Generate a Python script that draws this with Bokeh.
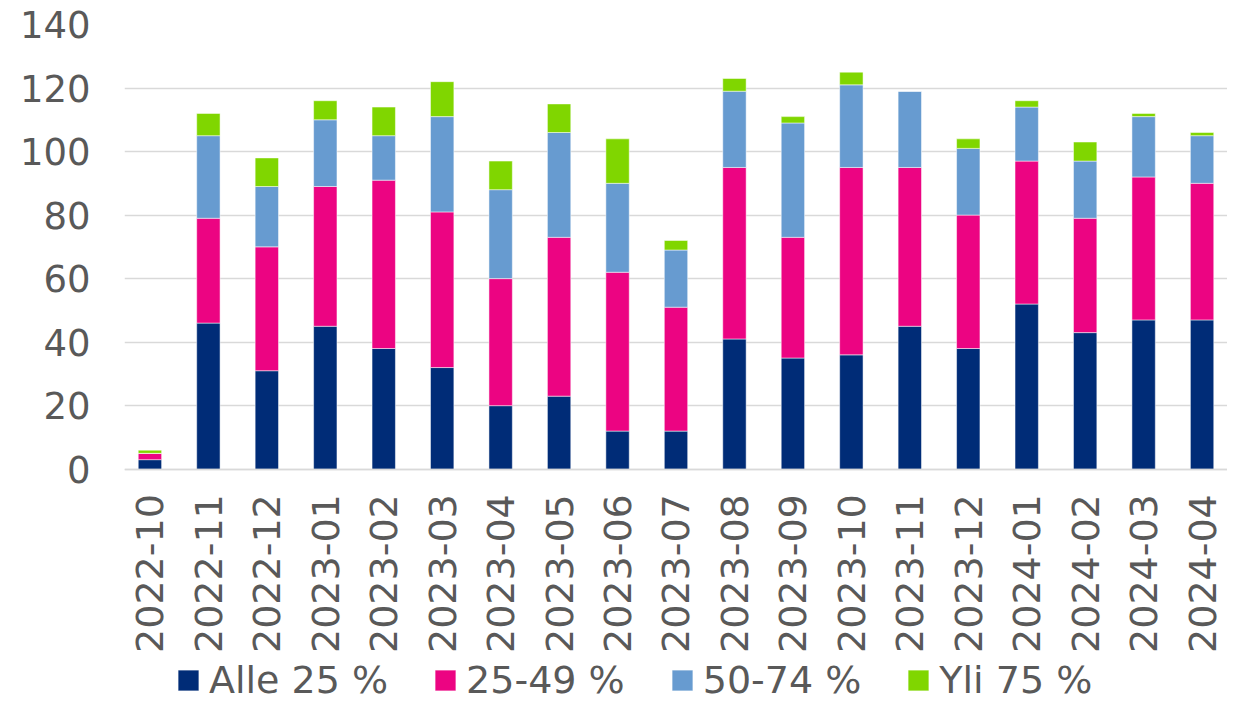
from bokeh.plotting import figure
from bokeh.models import ColumnDataSource, FactorRange, Range1d, Legend, LegendItem, FixedTicker
from bokeh.embed import file_html
from bokeh.resources import INLINE
import math

months = ["2022-10", "2022-11", "2022-12", "2023-01", "2023-02", "2023-03", "2023-04",
          "2023-05", "2023-06", "2023-07", "2023-08", "2023-09", "2023-10", "2023-11",
          "2023-12", "2024-01", "2024-02", "2024-03", "2024-04"]
alle_25 = [3, 46, 31, 45, 38, 32, 20, 23, 12, 12, 41, 35, 36, 45, 38, 52, 43, 47, 47]
v25_49 = [2, 33, 39, 44, 53, 49, 40, 50, 50, 39, 54, 38, 59, 50, 42, 45, 36, 45, 43]
v50_74 = [0, 26, 19, 21, 14, 30, 28, 33, 28, 18, 24, 36, 26, 24, 21, 17, 18, 19, 15]
yli_75 = [1, 7, 9, 6, 9, 11, 9, 9, 14, 3, 4, 2, 4, 0, 3, 2, 6, 1, 1]
series_labels = ["Alle 25 %", "25-49 %", "50-74 %", "Yli 75 %"]
y_ticks = [0, 20, 40, 60, 80, 100, 120, 140]

keys = ["a", "b", "c", "d"]
colors = ["#002c77", "#ec0482", "#679bd0", "#80d600"]
source = ColumnDataSource(dict(x=months, a=alle_25, b=v25_49, c=v50_74, d=yli_75))

FONT = "DejaVu Sans"
TXT = "#595959"

# frame runs to the bottom of the canvas so that the legend below the axis is drawn;
# the value 0 sits at 468.7 px and 140 at 24 px
PX_PER_UNIT = (468.7 - 24) / 140
Y_MIN = -(702 - 468.7) / PX_PER_UNIT

x_range = FactorRange(*months, range_padding=-0.065, range_padding_units="absolute")

p = figure(width=1227, height=702, x_range=x_range, y_range=Range1d(Y_MIN, 140),
           output_backend="svg", toolbar_location=None,
           min_border_left=124, min_border_right=0, min_border_top=24, min_border_bottom=0)
p.outline_line_color = None

rs = p.vbar_stack(keys, x="x", width=0.4, color=colors, source=source,
                  line_color="white", line_width=0.5)

p.xgrid.grid_line_color = None
p.ygrid.grid_line_color = "#d9d9d9"
p.ygrid.grid_line_width = 1.5

p.yaxis.ticker = FixedTicker(ticks=y_ticks)
p.yaxis.axis_line_color = None
p.yaxis.major_tick_line_color = None
p.yaxis.minor_tick_line_color = None
p.yaxis.major_tick_out = 0
p.yaxis.major_tick_in = 0
p.yaxis.major_label_standoff = 34
p.yaxis.major_label_text_font = FONT
p.yaxis.major_label_text_font_size = "37px"
p.yaxis.major_label_text_color = TXT

p.xaxis.fixed_location = 0
p.xaxis.axis_line_color = "#d9d9d9"
p.xaxis.axis_line_width = 1.5
p.xaxis.major_tick_line_color = None
p.xaxis.minor_tick_line_color = None
p.xaxis.major_tick_out = 0
p.xaxis.major_tick_in = 0
p.xaxis.major_label_standoff = 25
p.xaxis.major_label_orientation = math.pi / 2
p.xaxis.major_label_text_font = FONT
p.xaxis.major_label_text_font_size = "38px"
p.xaxis.major_label_text_color = TXT

items = [LegendItem(label=lab, renderers=[r]) for lab, r in zip(series_labels, rs)]
legend = Legend(items=items, orientation="horizontal", location=(51, 0),
                padding=0, margin=0, spacing=44, glyph_width=26, glyph_height=26,
                label_standoff=8, label_text_font=FONT, label_text_font_size="38px",
                label_text_color=TXT, border_line_color=None, background_fill_alpha=0)
p.add_layout(legend, "center")

open("out.html", "w").write(file_html(p, INLINE))
